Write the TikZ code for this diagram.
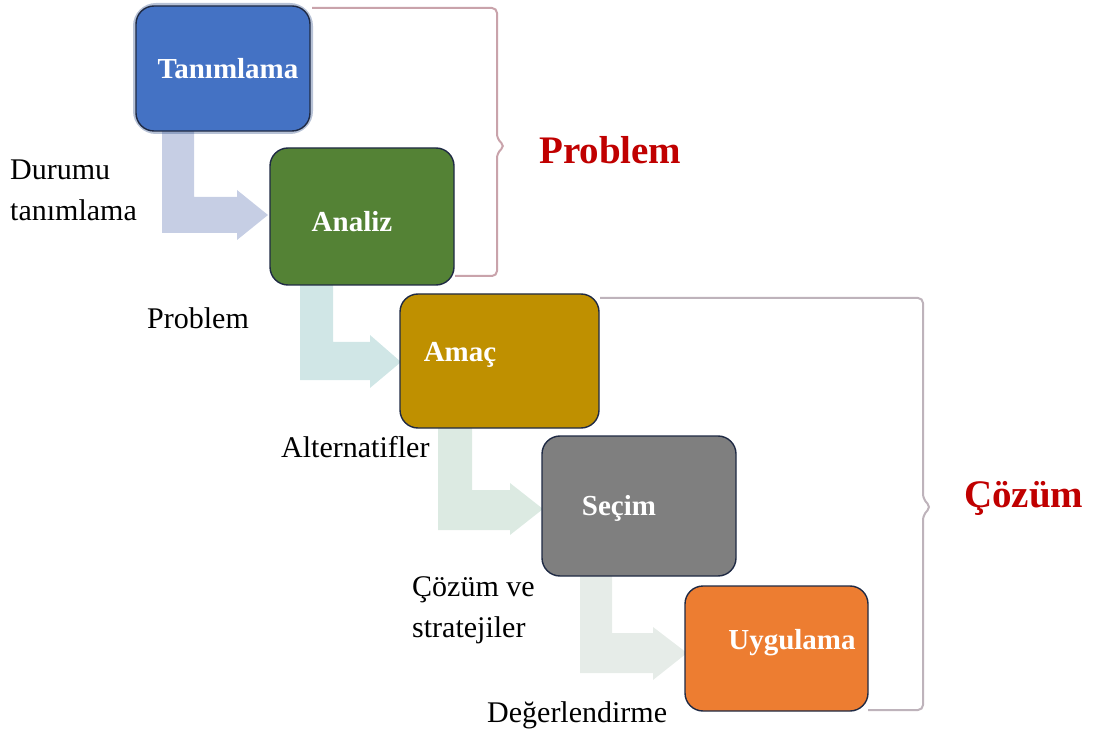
\documentclass[tikz,border=0pt]{standalone}
\usepackage{fontspec}
\setmainfont{Liberation Serif}
\definecolor{cblue}{HTML}{4472C4}
\definecolor{cgreen}{HTML}{548235}
\definecolor{cgold}{HTML}{BF9000}
\definecolor{cgray}{HTML}{7F7F7F}
\definecolor{corange}{HTML}{ED7D31}
\definecolor{cedge}{HTML}{1F2A44}
\definecolor{cred}{HTML}{C00000}
\definecolor{aone}{HTML}{C6CEE4}
\definecolor{atwo}{HTML}{D0E6E6}
\definecolor{athree}{HTML}{DCEAE2}
\definecolor{afour}{HTML}{E6ECE8}
\definecolor{brone}{HTML}{C9A3AB}
\definecolor{brtwo}{HTML}{BEB3BB}
\tikzset{
  box/.style={draw=cedge, line width=1.4pt, rounded corners=18pt, inner sep=0pt},
  boxtext/.style={text=white, font=\fontsize{29}{32}\selectfont\bfseries, inner sep=0pt},
  lab/.style={text=black, font=\fontsize{30}{41}\selectfont, inner sep=0pt, align=left},
  big/.style={text=cred, font=\fontsize{39}{42}\selectfont\bfseries, inner sep=0pt},
  brack/.style={line width=2pt, rounded corners=5pt}
}
\begin{document}
\begin{tikzpicture}[x=1pt,y=-1pt]
\useasboundingbox (0,0) rectangle (1098,735);
% bent arrows (behind boxes)
\fill[aone] (162,125) -- (194,125) -- (194,197) -- (237,197) -- (237,190) -- (268,215) -- (237,240) -- (237,233) -- (162,233) -- cycle;
\fill[atwo] (300,280) -- (333,280) -- (333,342) -- (370,342) -- (370,335) -- (401,362) -- (370,388) -- (370,380) -- (300,380) -- cycle;
\fill[athree] (438,424) -- (472,424) -- (472,490) -- (510,490) -- (510,483) -- (543,509) -- (510,535) -- (510,530) -- (438,530) -- cycle;
\fill[afour] (580,572) -- (612,572) -- (612,633) -- (653,633) -- (653,627) -- (687,653) -- (653,680) -- (653,673) -- (580,673) -- cycle;
% brackets
\coordinate (b1a) at (312,8);
\coordinate (b1b) at (455,276);
\draw[brack, brone] (b1a) -- (497,8) -- (497,139) -- (505,146) -- (497,153) -- (497,276) -- (b1b);
\coordinate (b2a) at (600,298);
\coordinate (b2b) at (868,710);
\draw[brack, brtwo] (b2a) -- (923,298) -- (923,499) -- (931,507) -- (923,515) -- (923,710) -- (b2b);
% boxes
\draw[cblue!70!black, line width=6pt, rounded corners=20pt, opacity=0.35] (136,6) rectangle (310,131);
\node[box, fill=cblue, minimum width=174pt, minimum height=125pt] (tan) at (223,68.5) {};
\node[box, fill=cgreen, minimum width=184pt, minimum height=137pt] (ana) at (362,216.5) {};
\node[box, fill=cgold, minimum width=199pt, minimum height=134pt] (ama) at (499.5,361) {};
\node[box, fill=cgray, minimum width=194pt, minimum height=140pt] (sec) at (639,506) {};
\node[box, fill=corange, minimum width=183pt, minimum height=125pt] (uyg) at (776.5,648.5) {};
% box texts
\node[boxtext] (tanT) at (228,69) {Tanımlama};
\node[boxtext] (anaT) at (352,222) {Analiz};
\node[boxtext] (amaT) at (460,355) {Amaç};
\node[boxtext] (secT) at (619,508) {Seçim};
\node[boxtext] (uygT) at (792,643) {Uygulama};
% side labels
\node[lab, anchor=west] (l1) at (10,190) {Durumu\\tanımlama};
\node[lab, anchor=west] (l2) at (147,318) {Problem};
\node[lab, anchor=west] (l3) at (281,447) {Alternatifler};
\node[lab, anchor=west] (l4) at (412,610) {Çözüm ve\\stratejiler};
\node[lab, anchor=west] (l5) at (487,715) {Değerlendirme};
% group labels
\node[big, anchor=west] (gp) at (539,150) {Problem};
\node[big, anchor=west] (gc) at (964,498) {Çözüm};
\end{tikzpicture}
\end{document}
